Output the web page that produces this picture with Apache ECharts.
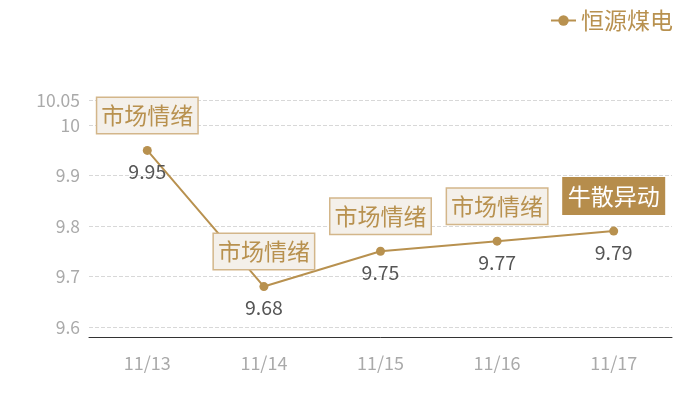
<!DOCTYPE html>
<html>
<head>
<meta charset="utf-8">
<script src="https://cdn.jsdelivr.net/npm/echarts@6/dist/echarts.min.js"></script>
<style>html,body{margin:0;padding:0;background:#fff}#c{width:700px;height:400px}</style>
</head>
<body>
<div id="c"></div>
<script>
const categories = ['11/13', '11/14', '11/15', '11/16', '11/17'];
const values = [9.95, 9.68, 9.75, 9.77, 9.79];
const tags = ['市场情绪', '市场情绪', '市场情绪', '市场情绪', '牛散异动'];
const highlightTag = '牛散异动';
const seriesName = '恒源煤电';

const FONT = '"Noto Sans CJK SC", "Noto Sans", sans-serif';
const GOLD = '#b8914f';

const markData = tags.map((t, i) => {
  const hot = t === highlightTag;
  return {
    coord: [categories[i], values[i]],
    value: t,
    label: {
      formatter: t,
      color: hot ? '#fff' : GOLD,
      backgroundColor: hot ? '#b68d4c' : '#f4f0ea',
      borderColor: hot ? '#b68d4c' : '#d3b68a',
      borderWidth: 1.5
    }
  };
});

const chart = echarts.init(document.getElementById('c'));
chart.setOption({
  animation: false,
  textStyle: { fontFamily: FONT },
  legend: {
    right: 22,
    top: 4,
    itemWidth: 25,
    itemHeight: 13,
    itemGap: 8,
    textStyle: { color: GOLD, fontSize: 23, fontFamily: FONT },
    data: [seriesName]
  },
  grid: { left: 89, right: 28, top: 100, bottom: 63 },
  xAxis: {
    type: 'category',
    data: categories,
    boundaryGap: true,
    axisLine: { lineStyle: { color: '#333', width: 1 } },
    axisTick: { show: false },
    axisLabel: { color: '#aaa', fontSize: 18, margin: 17, fontFamily: FONT }
  },
  yAxis: {
    type: 'value',
    min: 9.58,
    max: 10.05,
    splitNumber: 5,
    axisLine: { show: false },
    axisTick: { show: false },
    axisLabel: { color: '#aaa', fontSize: 17.5, margin: 9, showMinLabel: false, fontFamily: FONT },
    splitLine: { lineStyle: { color: '#d8d8d8', type: 'dashed' } }
  },
  series: [{
    name: seriesName,
    type: 'line',
    data: values,
    symbol: 'circle',
    symbolSize: 9,
    color: GOLD,
    lineStyle: { color: GOLD, width: 2 },
    itemStyle: { color: GOLD },
    label: {
      show: true,
      position: 'bottom',
      distance: 7,
      color: '#555',
      fontSize: 19.5,
      fontFamily: FONT
    },
    markPoint: {
      symbol: 'circle',
      symbolSize: 0,
      label: {
        show: true,
        position: 'inside',
        offset: [0, -35],
        fontSize: 23,
        fontFamily: FONT,
        padding: [3, 4, 3, 4],
        lineHeight: 29
      },
      data: markData
    }
  }]
});
</script>
</body>
</html>
